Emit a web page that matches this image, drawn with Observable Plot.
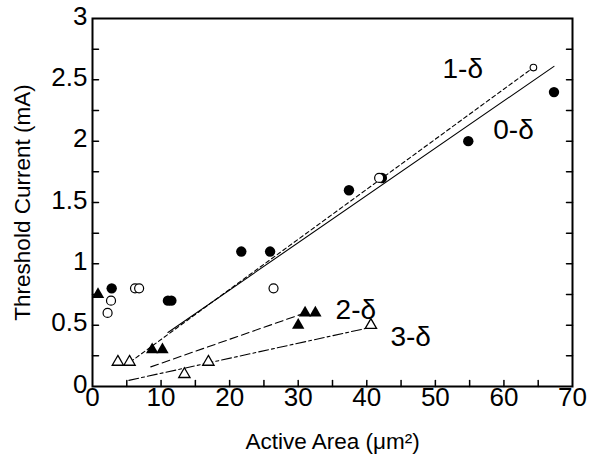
<!DOCTYPE html>
<html><head><meta charset="utf-8">
<script src="https://cdn.jsdelivr.net/npm/d3@7"></script>
<script src="https://cdn.jsdelivr.net/npm/@observablehq/plot@0.6"></script>
<style>
body{margin:0;background:#fff}
#chart svg text{font-family:'Liberation Sans', Arial, sans-serif}
</style>
</head><body><div id="chart"></div>
<script>
// 0-δ : filled circles
const zeroDelta = [[2.8,0.8],[11,0.7],[11.5,0.7],[21.7,1.1],[25.9,1.1],[37.4,1.6],[42.2,1.7],[54.8,2.0],[67.3,2.4]];
// 1-δ : open circles
const oneDelta = [[2.2,0.6],[2.7,0.7],[6.2,0.8],[6.8,0.8],[26.4,0.8],[41.8,1.7]];
const oneDeltaEnd = [[64.3,2.6]];
// 2-δ : filled triangles
const twoDelta = [[0.8,0.75],[8.7,0.3],[10.2,0.3],[30,0.5],[31,0.6],[32.5,0.6]];
// 3-δ : open triangles
const threeDelta = [[3.7,0.2],[5.4,0.2],[13.4,0.1],[16.9,0.2],[40.6,0.5]];

// fitted lines (end points)
const fit0 = [[11,0.44],[67.3,2.61]];
const fit1 = [[5.5,0.2],[64.3,2.6]];
const fit2 = [[8.5,0.16],[31,0.6]];
const fit3 = [[5.3,0.05],[40.4,0.48]];

// series labels
const seriesNames = ["0-δ","1-δ","2-δ","3-δ"];
const labelX = [61.4,54.0,38.4,46.4];
const labelY = [2.09,2.59,0.62,0.40];

// ticks and titles
const xTickLabels = [0,10,20,30,40,50,60,70];
const xTickMarks = [5,10,15,20,25,30,35,40,45,50,55,60,65];
const yTickLabels = [0,0.5,1,1.5,2,2.5,3];
const yTickMarks = [0.25,0.5,0.75,1,1.25,1.5,1.75,2,2.25,2.5,2.75];
const xTitle = "Active Area (μm²)";
const yTitle = "Threshold Current (mA)";

const P = a => a.map(([x,y]) => ({x,y}));
const labels = seriesNames.map((t,i) => ({t, x: labelX[i], y: labelY[i]}));
const tickShape = {draw(ctx, l) { ctx.moveTo(0,0); ctx.lineTo(0,-l); }};
const font = "'Liberation Sans', Arial, sans-serif";

const chart = Plot.plot({
  width: 590, height: 460,
  marginLeft: 92, marginRight: 18, marginTop: 18, marginBottom: 74,
  style: {fontFamily: font, background: "#fff", color: "#000"},
  x: {domain: [0,70], axis: null},
  y: {domain: [0,3], axis: null},
  marks: [
    Plot.line(P(fit0), {x:"x", y:"y", stroke:"#000", strokeWidth:1.1}),
    Plot.line(P(fit1), {x:"x", y:"y", stroke:"#000", strokeWidth:1.1, strokeDasharray:"4,3"}),
    Plot.line(P(fit2), {x:"x", y:"y", stroke:"#000", strokeWidth:1.1, strokeDasharray:"8,4"}),
    Plot.line(P(fit3), {x:"x", y:"y", stroke:"#000", strokeWidth:1.1, strokeDasharray:"10,3,3,3"}),
    Plot.dot(P(zeroDelta), {x:"x", y:"y", r:5.2, fill:"#000", stroke:"none"}),
    Plot.dot(P(oneDelta), {x:"x", y:"y", r:4.5, fill:"#fff", stroke:"#000", strokeWidth:1.2}),
    Plot.dot(P(oneDeltaEnd), {x:"x", y:"y", r:3.3, fill:"#fff", stroke:"#000", strokeWidth:1.1}),
    Plot.dot(P(twoDelta), {x:"x", y:"y", symbol:"triangle", r:4.6, fill:"#000", stroke:"none"}),
    Plot.dot(P(threeDelta), {x:"x", y:"y", symbol:"triangle", r:4.2, fill:"#fff", stroke:"#000", strokeWidth:1.3}),
    Plot.text(labels, {x:"x", y:"y", text:"t", fontSize:28, fill:"#000"}),
    Plot.vector(yTickMarks, {x: 0, y: d => d, anchor:"start", length:6, rotate:90, shape: tickShape, stroke:"#000", strokeWidth:1.5}),
    Plot.vector(yTickMarks, {x: 70, y: d => d, anchor:"start", length:6, rotate:-90, shape: tickShape, stroke:"#000", strokeWidth:1.5}),
    Plot.vector(xTickMarks, {x: d => d, y: 0, anchor:"start", length:6, rotate:0, shape: tickShape, stroke:"#000", strokeWidth:1.5}),
    Plot.text(yTickLabels, {x: 0, y: d => d, text: d => `${d}`, textAnchor:"end", dx:-5, dy:-2, fontSize:26, fill:"#000"}),
    Plot.text(xTickLabels, {x: d => d, y: 0, text: d => `${d}`, lineAnchor:"top", dy:1, fontSize:26, fill:"#000"}),
    Plot.text([yTitle], {frameAnchor:"left", text: d => d, rotate:-90, textAnchor:"middle", lineAnchor:"middle", dx:-70, fontSize:22.5, fill:"#000"}),
    Plot.text([xTitle], {frameAnchor:"bottom", text: d => d, textAnchor:"middle", lineAnchor:"middle", dy:55, fontSize:22.5, fill:"#000"}),
    Plot.frame({stroke:"#000", strokeWidth:2})
  ]
});
document.getElementById("chart").append(chart);
</script>
</body></html>
